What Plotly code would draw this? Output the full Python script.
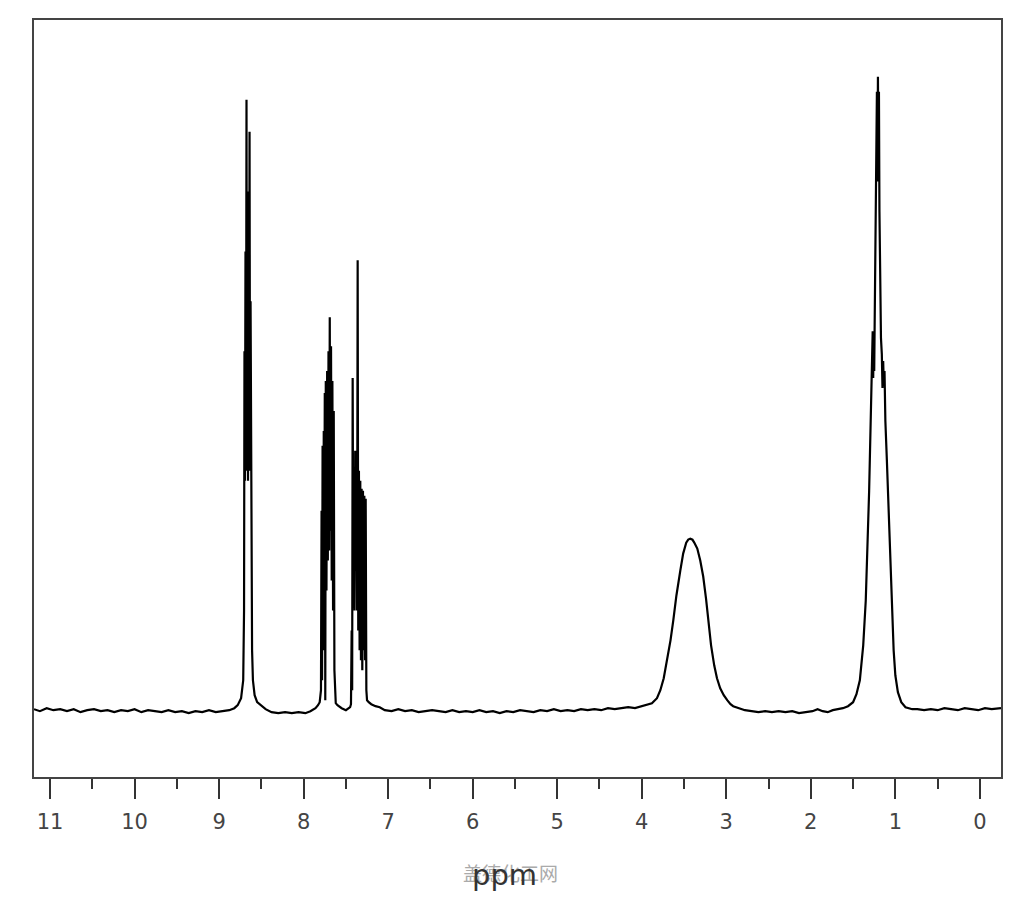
import plotly.graph_objects as go

# ---- spectrum data: (ppm, intensity) ----
base_a_ppm = [11.19, 11.12, 11.04, 10.96, 10.88, 10.80, 10.72, 10.64, 10.56, 10.48, 10.40, 10.32, 10.24,
              10.16, 10.08, 10.00, 9.92, 9.84, 9.76, 9.68, 9.60, 9.52, 9.44, 9.36, 9.28, 9.20, 9.12,
              9.04, 8.96, 8.88, 8.82]
base_a_int = [1, -1, 2, 0, 1, -1, 1, -2, 0, 1, -1, 0, -2, 0, -1, 1, -2, 0, -1, -2, 0, -2, -1, -3, -1,
              -2, 0, -2, -1, 0, 2]

g1_ppm = [8.78, 8.74, 8.715, 8.705, 8.700, 8.694, 8.688, 8.682, 8.676, 8.670, 8.664, 8.658, 8.652,
          8.646, 8.640, 8.634, 8.628, 8.622, 8.616, 8.610, 8.600, 8.58, 8.55, 8.50]
g1_int = [5, 12, 30, 100, 360, 230, 460, 240, 612, 240, 430, 230, 520, 250, 580, 240, 410, 230, 240,
          60, 30, 15, 8, 4]

base_b_ppm = [8.45, 8.38, 8.30, 8.22, 8.14, 8.06, 7.98, 7.92, 7.86]
base_b_int = [1, -2, -3, -2, -3, -2, -3, -1, 2]

g2_ppm = [7.83, 7.81, 7.795, 7.788, 7.782, 7.776, 7.770, 7.762, 7.756, 7.750, 7.744, 7.738, 7.730,
          7.722, 7.714, 7.706, 7.698, 7.691, 7.684, 7.676, 7.668, 7.660, 7.652, 7.644, 7.636, 7.628,
          7.62, 7.60, 7.55, 7.50]
g2_int = [5, 8, 20, 200, 30, 265, 60, 280, 140, 318, 10, 330, 120, 340, 150, 360, 160, 394, 180, 365,
          130, 330, 100, 300, 40, 10, 7, 5, 2, 0]

g3_ppm = [7.47, 7.45, 7.44, 7.432, 7.426, 7.420, 7.414, 7.406, 7.398, 7.390, 7.382, 7.374, 7.368,
          7.361, 7.354, 7.346, 7.338, 7.330, 7.322, 7.314, 7.306, 7.298, 7.290, 7.282, 7.274, 7.266,
          7.258, 7.25, 7.23, 7.20, 7.15, 7.10]
g3_int = [2, 3, 6, 80, 20, 333, 150, 240, 100, 260, 140, 250, 100, 451, 80, 240, 60, 230, 50, 222, 40,
          220, 60, 215, 50, 212, 20, 10, 8, 6, 4, 3]

base_c_ppm = [7.04, 6.96, 6.88, 6.80, 6.72, 6.64, 6.56, 6.48, 6.40, 6.32, 6.24, 6.16, 6.08, 6.00, 5.92,
              5.84, 5.76, 5.68, 5.60, 5.52, 5.44, 5.36, 5.28, 5.20, 5.12, 5.04, 4.96, 4.88, 4.80, 4.72,
              4.64, 4.56, 4.48, 4.40, 4.32, 4.24, 4.16, 4.08, 4.00, 3.94, 3.88]
base_c_int = [0, -1, 1, -1, 0, -2, -1, 0, -1, -2, 0, -2, -1, -2, 0, -2, -1, -3, -1, -2, 0, -1, -2, 0,
              -1, 1, -1, 0, -1, 1, 0, 1, 0, 2, 1, 2, 3, 2, 4, 5, 7]

g_oh_ppm = [3.82, 3.78, 3.74, 3.70, 3.66, 3.627, 3.59, 3.544, 3.51, 3.474, 3.45, 3.426, 3.40, 3.379,
            3.343, 3.308, 3.273, 3.24, 3.214, 3.18, 3.143, 3.11, 3.072, 3.03, 2.989, 2.95, 2.918]
g_oh_int = [12, 20, 32, 50, 70, 90, 115, 140, 157, 168, 171, 172, 171, 168, 162, 150, 134, 112, 90,
            65, 45, 32, 22, 15, 10, 6, 4]

base_d_ppm = [2.86, 2.78, 2.70, 2.62, 2.54, 2.46, 2.38, 2.30, 2.22, 2.14, 2.06, 1.98, 1.92, 1.86, 1.80,
              1.74, 1.68, 1.62]
base_d_int = [2, 0, -1, -2, -1, -2, -1, -2, -1, -3, -2, -1, 1, -1, -2, 0, 1, 2]

g4_ppm = [1.56, 1.50, 1.46, 1.42, 1.38, 1.35, 1.31, 1.29, 1.268, 1.262, 1.256, 1.250, 1.240, 1.228,
          1.218, 1.212, 1.206, 1.200, 1.194, 1.188, 1.180, 1.170, 1.160, 1.152, 1.144, 1.136, 1.128,
          1.118, 1.10, 1.08, 1.06, 1.04, 1.02, 1.00, 0.97, 0.93, 0.88, 0.80]
g4_int = [4, 8, 16, 30, 65, 110, 220, 300, 380, 333, 375, 340, 450, 560, 620, 530, 635, 560, 620, 500,
          430, 373, 357, 323, 350, 325, 340, 290, 250, 200, 150, 100, 60, 35, 18, 8, 3, 1]

base_e_ppm = [0.74, 0.66, 0.58, 0.50, 0.42, 0.34, 0.26, 0.18, 0.10, 0.02, -0.06, -0.14, -0.25]
base_e_int = [1, 0, 1, 0, 2, 1, 0, 2, 1, 0, 2, 1, 2]

tick_vals = [11, 10, 9, 8, 7, 6, 5, 4, 3, 2, 1, 0]
tick_text = ["11", "10", "9", "8", "7", "6", "5", "4", "3", "2", "1", "0"]

ppm = (base_a_ppm + g1_ppm + base_b_ppm + g2_ppm + g3_ppm + base_c_ppm + g_oh_ppm + base_d_ppm
       + g4_ppm + base_e_ppm)
intensity = (base_a_int + g1_int + base_b_int + g2_int + g3_int + base_c_int + g_oh_int + base_d_int
             + g4_int + base_e_int)

fig = go.Figure()
fig.add_trace(go.Scatter(x=ppm, y=intensity, mode="lines",
                         line=dict(color="black", width=2.2), hoverinfo="skip"))

fig.update_layout(
    width=1024, height=900,
    margin=dict(l=26, r=31, t=10, b=131),
    paper_bgcolor="white", plot_bgcolor="white",
    showlegend=False,
    xaxis=dict(range=[11.19, -0.25], tickvals=tick_vals, ticktext=tick_text,
               ticks="outside", ticklen=20, tickwidth=2, tickcolor="#333",
               minor=dict(dtick=0.5, ticks="outside", ticklen=10, tickwidth=2, tickcolor="#333"),
               showgrid=False, zeroline=False, showline=True, mirror=True,
               linecolor="#444", linewidth=2,
               ticklabelstandoff=5,
               tickfont=dict(family="DejaVu Sans", size=21, color="#444")),
    yaxis=dict(range=[-67, 692], showticklabels=False, ticks="", showgrid=False, zeroline=False,
               showline=True, mirror=True, linecolor="#444", linewidth=2),
    annotations=[
        dict(text="盖德化工网", xref="paper", yref="paper", x=0.493, y=-0.126,
             xanchor="center", yanchor="middle",
             showarrow=False, font=dict(family="Noto Sans CJK SC", size=19, color="#aaaaaa")),
        dict(text="ppm", xref="paper", yref="paper", x=0.487, y=-0.129,
             xanchor="center", yanchor="middle",
             showarrow=False, font=dict(family="DejaVu Sans", size=29, color="#333")),
    ],
)

fig.write_html("out.html")
